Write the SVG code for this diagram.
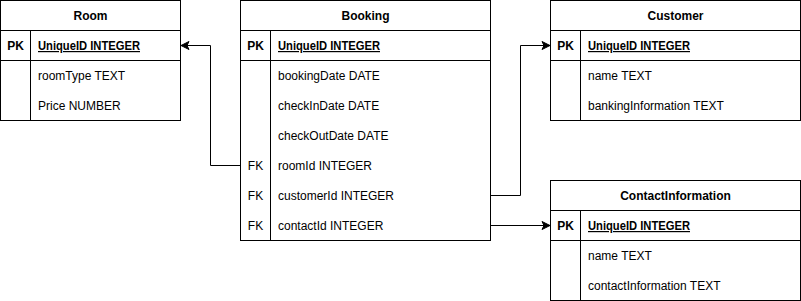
<svg xmlns="http://www.w3.org/2000/svg" width="801" height="301" viewBox="0 0 801 301">
  <style>
    .box { fill: #ffffff; stroke: #000000; stroke-width: 1; }
    .ln { stroke: #000000; stroke-width: 1; fill: none; }
    text { font-family: "Liberation Sans", Arial, Helvetica, sans-serif; font-size: 12px; fill: #000000; }
    .hdr { font-weight: bold; text-anchor: middle; }
    .key { text-anchor: middle; }
    .pk { font-weight: bold; }
    .pkname { font-weight: bold; text-decoration: underline; }
    .edge { stroke: #000000; stroke-width: 1; fill: none; marker-end: url(#arrow); }
  </style>
  <defs>
    <marker id="arrow" viewBox="0 0 10 10" refX="9" refY="5" markerWidth="10" markerHeight="10" markerUnits="userSpaceOnUse" orient="auto">
      <path d="M9,5 L1,1 L3,5 L1,9 Z" fill="#000000" stroke="#000000" stroke-width="1" stroke-linejoin="miter"/>
    </marker>
  </defs>

  <rect width="801" height="301" fill="#ffffff"/>

  <!-- Room table -->
  <g id="room">
    <rect class="box" x="0.5" y="0.5" width="180" height="120"/>
    <line class="ln" x1="0.5" y1="30.5" x2="180.5" y2="30.5"/>
    <line class="ln" x1="0.5" y1="60.5" x2="180.5" y2="60.5"/>
    <line class="ln" x1="30.5" y1="30.5" x2="30.5" y2="120.5"/>
    <text class="hdr" x="90.5" y="20">Room</text>
    <text class="key pk" x="15.5" y="50">PK</text>
    <text class="pkname" x="38" y="50" textLength="102" lengthAdjust="spacingAndGlyphs">UniqueID INTEGER</text>
    <text x="38" y="80">roomType TEXT</text>
    <text x="38" y="110">Price NUMBER</text>
  </g>

  <!-- Booking table -->
  <g id="booking">
    <rect class="box" x="240.5" y="0.5" width="250" height="240"/>
    <line class="ln" x1="240.5" y1="30.5" x2="490.5" y2="30.5"/>
    <line class="ln" x1="240.5" y1="60.5" x2="490.5" y2="60.5"/>
    <line class="ln" x1="270.5" y1="30.5" x2="270.5" y2="240.5"/>
    <text class="hdr" x="365.5" y="20">Booking</text>
    <text class="key pk" x="255.5" y="50">PK</text>
    <text class="pkname" x="278" y="50" textLength="102" lengthAdjust="spacingAndGlyphs">UniqueID INTEGER</text>
    <text x="278" y="80">bookingDate DATE</text>
    <text x="278" y="110">checkInDate DATE</text>
    <text x="278" y="140">checkOutDate DATE</text>
    <text class="key" x="255.5" y="170">FK</text>
    <text x="278" y="170">roomId INTEGER</text>
    <text class="key" x="255.5" y="200">FK</text>
    <text x="278" y="200">customerId INTEGER</text>
    <text class="key" x="255.5" y="230">FK</text>
    <text x="278" y="230">contactId INTEGER</text>
  </g>

  <!-- Customer table -->
  <g id="customer">
    <rect class="box" x="550.5" y="0.5" width="250" height="120"/>
    <line class="ln" x1="550.5" y1="30.5" x2="800.5" y2="30.5"/>
    <line class="ln" x1="550.5" y1="60.5" x2="800.5" y2="60.5"/>
    <line class="ln" x1="580.5" y1="30.5" x2="580.5" y2="120.5"/>
    <text class="hdr" x="675.5" y="20">Customer</text>
    <text class="key pk" x="565.5" y="50">PK</text>
    <text class="pkname" x="588" y="50" textLength="102" lengthAdjust="spacingAndGlyphs">UniqueID INTEGER</text>
    <text x="588" y="80">name TEXT</text>
    <text x="588" y="110">bankingInformation TEXT</text>
  </g>

  <!-- ContactInformation table -->
  <g id="contactinformation">
    <rect class="box" x="550.5" y="180.5" width="250" height="120"/>
    <line class="ln" x1="550.5" y1="210.5" x2="800.5" y2="210.5"/>
    <line class="ln" x1="550.5" y1="240.5" x2="800.5" y2="240.5"/>
    <line class="ln" x1="580.5" y1="210.5" x2="580.5" y2="300.5"/>
    <text class="hdr" x="675.5" y="200">ContactInformation</text>
    <text class="key pk" x="565.5" y="230">PK</text>
    <text class="pkname" x="588" y="230" textLength="102" lengthAdjust="spacingAndGlyphs">UniqueID INTEGER</text>
    <text x="588" y="260">name TEXT</text>
    <text x="588" y="290">contactInformation TEXT</text>
  </g>

  <!-- Foreign key relations -->
  <g id="connectors">
    <path class="edge" d="M240.5,165.5 L210.5,165.5 L210.5,45.5 L181,45.5"/>
    <path class="edge" d="M490.5,195.5 L520.5,195.5 L520.5,45.5 L550,45.5"/>
    <path class="edge" d="M490.5,225.5 L550,225.5"/>
  </g>
</svg>
